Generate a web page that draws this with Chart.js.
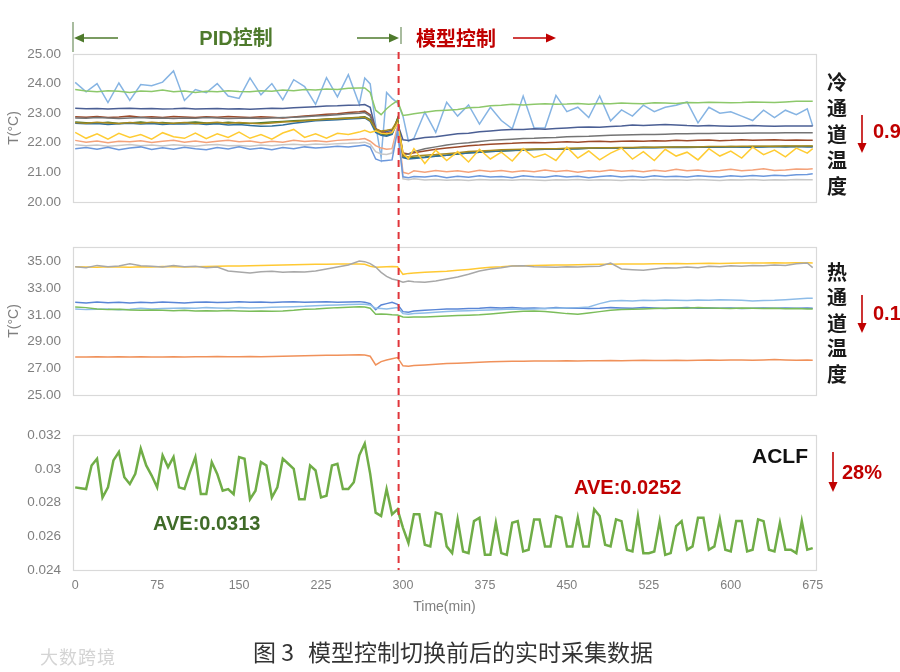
<!DOCTYPE html>
<html>
<head>
<meta charset="utf-8">
<script src="https://cdn.jsdelivr.net/npm/chart.js@4.4.1/dist/chart.umd.min.js"></script>
<style>
  body { margin: 0; width: 900px; height: 672px; background: #fff; position: relative; overflow: hidden;
         font-family: "Liberation Sans", Arial, "Noto Sans CJK SC", sans-serif; }
  .panel { position: absolute; left: 0; width: 900px; }
  .panel canvas { display: block; }
  .note { position: absolute; font-weight: bold; font-size: 20px; line-height: 1; white-space: nowrap;
          transform: translateY(-50%); }
  .vert { position: absolute; font-family: "Noto Sans CJK SC", sans-serif; font-weight: bold; font-size: 20px;
          line-height: 1; color: #1a1a1a; transform: translate(-50%, -50%); }
  .cap { position: absolute; top: 651px; transform: translateY(-50%); font-family: "Noto Sans CJK SC", sans-serif;
         font-size: 23px; line-height: 1; color: #333; white-space: nowrap; }
  #overlay { position: absolute; left: 0; top: 0; pointer-events: none; }
</style>
</head>
<body>

<div class="panel" style="top:0;height:222px"><canvas id="coldChart" width="900" height="222"></canvas></div>
<div class="panel" style="top:222px;height:193px"><canvas id="hotChart" width="900" height="193"></canvas></div>
<div class="panel" style="top:415px;height:205px"><canvas id="aclfChart" width="900" height="205"></canvas></div>

<svg id="overlay" width="900" height="672">
  <!-- PID section marker -->
  <line x1="73" y1="22" x2="73" y2="52" stroke="#6f8f5f" stroke-width="1.2"/>
  <line x1="118" y1="38" x2="82" y2="38" stroke="#4e7a2c" stroke-width="1.6"/>
  <polygon points="74,38 84,33.5 84,42.5" fill="#4e7a2c"/>
  <line x1="357" y1="38" x2="390" y2="38" stroke="#4e7a2c" stroke-width="1.6"/>
  <polygon points="399,38 389,33.5 389,42.5" fill="#4e7a2c"/>
  <line x1="401" y1="27" x2="401" y2="44" stroke="#6f8f5f" stroke-width="1.2"/>
  <!-- model section arrow -->
  <line x1="513" y1="38" x2="547" y2="38" stroke="#c00000" stroke-width="1.6"/>
  <polygon points="556,38 546,33.5 546,42.5" fill="#c00000"/>
  <!-- down arrows -->
  <line x1="862" y1="115" x2="862" y2="144" stroke="#c00000" stroke-width="1.6"/>
  <polygon points="862,153 857.5,143 866.5,143" fill="#c00000"/>
  <line x1="862" y1="295" x2="862" y2="324" stroke="#c00000" stroke-width="1.6"/>
  <polygon points="862,333 857.5,323 866.5,323" fill="#c00000"/>
  <line x1="833" y1="452" x2="833" y2="483" stroke="#c00000" stroke-width="1.6"/>
  <polygon points="833,492 828.5,482 837.5,482" fill="#c00000"/>
</svg>

<div class="note" style="left:236px;top:38px;color:#4e7a2c;transform:translate(-50%,-50%);font-family:'Liberation Sans','Noto Sans CJK SC',sans-serif">PID控制</div>
<div class="note" style="left:416px;top:38px;color:#c00000;font-family:'Noto Sans CJK SC',sans-serif">模型控制</div>

<div class="vert" style="left:837px;top:82px">冷</div>
<div class="vert" style="left:837px;top:108px">通</div>
<div class="vert" style="left:837px;top:134px">道</div>
<div class="vert" style="left:837px;top:160px">温</div>
<div class="vert" style="left:837px;top:186px">度</div>
<div class="note" style="left:873px;top:131px;color:#c00000">0.9</div>

<div class="vert" style="left:837px;top:272px">热</div>
<div class="vert" style="left:837px;top:297px">通</div>
<div class="vert" style="left:837px;top:323px">道</div>
<div class="vert" style="left:837px;top:348px">温</div>
<div class="vert" style="left:837px;top:374px">度</div>
<div class="note" style="left:873px;top:313px;color:#c00000">0.1</div>

<div class="note" style="left:752px;top:455px;color:#111;font-size:21px">ACLF</div>
<div class="note" style="left:842px;top:472px;color:#c00000">28%</div>
<div class="note" style="left:574px;top:487px;color:#c00000">AVE:0.0252</div>
<div class="note" style="left:153px;top:523px;color:#3f6b28">AVE:0.0313</div>

<div style="position:absolute;left:40px;top:656px;transform:translateY(-50%);font-family:'Noto Sans CJK SC',sans-serif;font-size:18px;color:#d4d4d4;letter-spacing:1px">大数跨境</div>
<div class="cap" style="left:253px">图 3</div>
<div class="cap" style="left:308px">模型控制切换前后的实时采集数据</div>

<script>
// time axis (min)
const switchTime = 296;
const xTicks = [0, 75, 150, 225, 300, 375, 450, 525, 600, 675];
const yColdTicks = [20, 21, 22, 23, 24, 25];
const yHotTicks = [25, 27, 29, 31, 33, 35];
const yAclfTicks = [0.024, 0.026, 0.028, 0.03, 0.032];

// sample times for temperature readings
const tempTimes = [0, 10, 20, 30, 40, 50, 60, 70, 80, 90, 100, 110, 120, 130, 140, 150, 160, 170, 180, 190, 200, 210, 220, 230, 240, 250, 260,
  265, 270, 275, 280, 285, 290, 295, 300, 305, 310,
  320, 330, 340, 350, 360, 370, 380, 390, 400, 410, 420, 430, 440, 450, 460, 470, 480, 490, 500, 510, 520, 530, 540, 550, 560, 570, 580, 590, 600, 610, 620, 630, 640, 650, 660, 670,
  675];

// cold aisle temperatures
const coldA = [24.04, 23.72, 24.00, 23.36, 24.02, 23.43, 23.97, 23.93, 24.05, 24.43, 23.43, 23.80, 23.69, 24.00, 23.58, 23.50, 24.19, 23.62, 24.00, 23.45, 24.13, 23.90, 23.30, 24.20, 23.55, 24.30, 23.30,
  24.19, 23.99, 22.60, 21.50, 23.70, 23.50, 23.35, 22.90, 22.05, 22.15,
  23.03, 22.35, 23.37, 22.90, 23.28, 22.63, 23.20, 22.75, 22.47, 23.58, 22.50, 22.50, 23.60, 23.05, 23.20, 22.85, 23.58, 22.74, 23.11, 22.90, 23.27, 23.05, 23.20, 23.27, 23.38, 22.67, 23.20, 23.00, 23.05, 22.90, 22.75, 23.10, 22.85, 23.10, 22.95, 23.15,
  22.57];
const coldB = [23.80, 23.75, 23.72, 23.76, 23.74, 23.70, 23.75, 23.73, 23.78, 23.72, 23.75, 23.70, 23.74, 23.72, 23.76, 23.73, 23.72, 23.76, 23.74, 23.78, 23.76, 23.80, 23.78, 23.82, 23.80, 23.84, 23.85,
  23.85, 23.70, 23.10, 22.95, 23.15, 23.30, 23.42, 22.92, 22.95, 22.98,
  23.03, 23.08, 23.10, 23.12, 23.18, 23.20, 23.25, 23.27, 23.30, 23.28, 23.30, 23.32, 23.30, 23.31, 23.33, 23.30, 23.33, 23.32, 23.34, 23.33, 23.32, 23.35, 23.34, 23.33, 23.36, 23.35, 23.37, 23.36, 23.35, 23.36, 23.38, 23.37, 23.36, 23.38, 23.40, 23.40,
  23.40];
const coldC = [23.17, 23.15, 23.16, 23.14, 23.16, 23.17, 23.15, 23.16, 23.14, 23.15, 23.17, 23.14, 23.15, 23.16, 23.14, 23.15, 23.13, 23.15, 23.17, 23.16, 23.18, 23.20, 23.22, 23.24, 23.25, 23.27, 23.28,
  23.29, 23.20, 22.45, 22.35, 22.38, 22.42, 22.65, 22.10, 22.08, 22.12,
  22.18, 22.20, 22.25, 22.30, 22.32, 22.37, 22.40, 22.43, 22.45, 22.45, 22.47, 22.46, 22.48, 22.50, 22.52, 22.53, 22.52, 22.55, 22.57, 22.60, 22.58, 22.60, 22.62, 22.60, 22.58, 22.57, 22.58, 22.57, 22.56, 22.57, 22.58, 22.57, 22.56, 22.57, 22.57, 22.57,
  22.57];
const coldD = [22.88, 22.86, 22.89, 22.85, 22.87, 22.90, 22.86, 22.88, 22.85, 22.89, 22.87, 22.85, 22.88, 22.86, 22.89, 22.87, 22.85, 22.88, 22.86, 22.84, 22.87, 22.90, 22.93, 22.96, 22.98, 23.02, 23.05,
  23.07, 22.95, 22.48, 22.38, 22.32, 22.36, 22.78, 21.65, 21.62, 21.66,
  21.72, 21.78, 21.82, 21.86, 21.90, 21.92, 21.95, 21.97, 21.98, 22.00, 22.01, 22.00, 22.02, 22.03, 22.02, 22.04, 22.05, 22.03, 22.05, 22.06, 22.05, 22.07, 22.06, 22.08, 22.07, 22.08, 22.09, 22.07, 22.08, 22.10, 22.08, 22.09, 22.10, 22.08, 22.09, 22.08,
  22.08];
const coldE = [22.84, 22.83, 22.85, 22.84, 22.82, 22.84, 22.85, 22.83, 22.84, 22.82, 22.84, 22.83, 22.85, 22.84, 22.82, 22.83, 22.84, 22.82, 22.84, 22.85, 22.86, 22.88, 22.90, 22.92, 22.95, 22.98, 23.00,
  23.02, 22.90, 22.42, 22.30, 22.28, 22.33, 22.80, 21.58, 21.62, 21.70,
  21.80, 21.86, 21.92, 21.97, 22.00, 22.04, 22.08, 22.10, 22.12, 22.14, 22.15, 22.17, 22.18, 22.20, 22.21, 22.22, 22.24, 22.25, 22.26, 22.27, 22.28, 22.28, 22.29, 22.30, 22.30, 22.31, 22.31, 22.32, 22.32, 22.32, 22.33, 22.33, 22.33, 22.34, 22.34, 22.34,
  22.34];
const coldF = [22.70, 22.68, 22.66, 22.69, 22.65, 22.67, 22.70, 22.66, 22.68, 22.65, 22.68, 22.70, 22.67, 22.66, 22.69, 22.67, 22.65, 22.68, 22.70, 22.72, 22.74, 22.76, 22.78, 22.80, 22.82, 22.84, 22.86,
  22.88, 22.78, 22.40, 22.30, 22.25, 22.30, 22.82, 21.52, 21.48, 21.50,
  21.52, 21.55, 21.58, 21.62, 21.66, 21.68, 21.70, 21.72, 21.74, 21.76, 21.77, 21.78, 21.79, 21.80, 21.80, 21.81, 21.82, 21.82, 21.83, 21.83, 21.84, 21.84, 21.85, 21.85, 21.86, 21.85, 21.86, 21.86, 21.87, 21.86, 21.87, 21.87, 21.87, 21.88, 21.87, 21.88,
  21.88];
const coldG = [22.66, 22.64, 22.65, 22.62, 22.64, 22.66, 22.63, 22.65, 22.62, 22.64, 22.63, 22.65, 22.62, 22.64, 22.60, 22.62, 22.58, 22.56, 22.57, 22.60, 22.66, 22.70, 22.74, 22.76, 22.78, 22.80, 22.82,
  22.84, 22.72, 22.35, 22.25, 22.22, 22.28, 22.70, 21.50, 21.45, 21.47,
  21.50, 21.54, 21.58, 21.62, 21.65, 21.68, 21.70, 21.72, 21.74, 21.75, 21.77, 21.78, 21.78, 21.79, 21.80, 21.81, 21.81, 21.82, 21.83, 21.82, 21.84, 21.83, 21.84, 21.85, 21.84, 21.85, 21.86, 21.85, 21.86, 21.86, 21.85, 21.86, 21.87, 21.86, 21.87, 21.86,
  21.86];
const coldH = [22.68, 22.66, 22.69, 22.67, 22.65, 22.68, 22.66, 22.69, 22.67, 22.66, 22.68, 22.65, 22.67, 22.69, 22.66, 22.68, 22.66, 22.64, 22.67, 22.70, 22.72, 22.74, 22.77, 22.79, 22.81, 22.83, 22.85,
  22.86, 22.75, 22.45, 22.40, 22.42, 22.46, 22.76, 21.55, 21.52, 21.55,
  21.58, 21.60, 21.63, 21.66, 21.70, 21.72, 21.74, 21.76, 21.77, 21.78, 21.79, 21.80, 21.80, 21.81, 21.82, 21.82, 21.83, 21.83, 21.84, 21.84, 21.85, 21.85, 21.85, 21.86, 21.86, 21.86, 21.87, 21.87, 21.87, 21.88, 21.88, 21.88, 21.88, 21.89, 21.89, 21.89,
  21.89];
const coldI = [22.35, 22.15, 22.30, 22.12, 22.32, 22.18, 22.28, 22.12, 22.34, 22.20, 22.15, 22.33, 22.14, 22.30, 22.18, 22.36, 22.15, 22.28, 22.12, 22.33, 22.45, 22.18, 22.30, 22.15, 22.32, 22.28, 22.36,
  22.42, 22.35, 22.40, 22.32, 22.30, 22.34, 22.65, 21.65, 21.45, 21.80,
  21.30, 21.75, 21.40, 21.70, 21.35, 21.78, 21.45, 21.68, 21.38, 21.80, 21.50, 21.62, 21.40, 21.85, 21.48, 21.72, 21.42, 21.65, 21.82, 21.45, 21.70, 21.40, 21.78, 21.55, 21.68, 21.42, 21.80, 21.55, 21.72, 21.48, 21.85, 21.60, 21.75, 21.52, 21.82, 21.65,
  21.80];
const coldJ = [22.08, 22.02, 22.06, 22.00, 22.05, 22.03, 22.07, 22.01, 22.05, 22.08, 22.02, 22.06, 22.01, 22.05, 22.08, 22.03, 22.06, 22.00, 22.05, 22.02, 22.08, 22.04, 22.07, 22.03, 22.08, 22.10, 22.12,
  22.14, 22.05, 21.90, 21.82, 21.78, 21.80, 22.55, 21.00, 20.95, 21.05,
  21.00, 21.06, 21.02, 21.05, 21.00, 21.07, 21.03, 21.06, 21.01, 21.05, 21.02, 21.08, 21.03, 21.06, 21.00, 21.05, 21.03, 21.08, 21.04, 21.06, 21.02, 21.07, 21.04, 21.10, 21.05, 21.08, 21.03, 21.06, 21.10, 21.05, 21.08, 21.12, 21.06, 21.08, 21.11, 21.10,
  21.12];
const coldK = [21.93, 21.90, 21.92, 21.88, 21.91, 21.94, 21.90, 21.92, 21.89, 21.93, 21.91, 21.88, 21.92, 21.94, 21.90, 21.91, 21.88, 21.92, 21.90, 21.93, 21.95, 21.92, 21.96, 21.94, 21.97, 21.98, 22.00,
  22.02, 21.95, 21.70, 21.62, 21.60, 21.65, 22.45, 20.78, 20.75, 20.78,
  20.74, 20.76, 20.73, 20.75, 20.72, 20.76, 20.74, 20.75, 20.73, 20.76, 20.74, 20.72, 20.75, 20.74, 20.76, 20.73, 20.75, 20.74, 20.72, 20.75, 20.73, 20.76, 20.74, 20.75, 20.73, 20.76, 20.74, 20.72, 20.75, 20.74, 20.76, 20.73, 20.75, 20.74, 20.76, 20.75,
  20.75];
const coldL = [21.80, 21.84, 21.78, 21.85, 21.76, 21.82, 21.86, 21.77, 21.83, 21.78, 21.85, 21.80, 21.76, 21.84, 21.79, 21.86, 21.78, 21.82, 21.76, 21.84, 21.80, 21.86, 21.82, 21.85, 21.88, 21.86, 21.90,
  21.92, 21.85, 21.45, 21.38, 21.40, 21.42, 22.40, 20.85, 20.82, 20.86,
  20.84, 20.88, 20.82, 20.87, 20.83, 20.88, 20.84, 20.86, 20.82, 20.88, 20.85, 20.83, 20.88, 20.84, 20.87, 20.82, 20.86, 20.88, 20.84, 20.87, 20.83, 20.88, 20.85, 20.87, 20.84, 20.88, 20.86, 20.84, 20.88, 20.86, 20.89, 20.87, 20.90, 20.88, 20.92, 20.93,
  20.95];

// hot aisle temperatures
const hotA = [34.62, 34.60, 34.58, 34.62, 34.60, 34.58, 34.62, 34.60, 34.63, 34.62, 34.60, 34.62, 34.64, 34.65, 34.67, 34.68, 34.70, 34.72, 34.73, 34.75, 34.77, 34.78, 34.80, 34.80, 34.82, 34.83, 34.82,
  34.80, 34.65, 34.58, 34.60, 34.62, 34.64, 34.62, 34.05, 34.12, 34.15,
  34.20, 34.25, 34.28, 34.35, 34.42, 34.50, 34.58, 34.62, 34.68, 34.70, 34.72, 34.73, 34.74, 34.75, 34.76, 34.78, 34.80, 34.80, 34.82, 34.82, 34.83, 34.85, 34.84, 34.86, 34.85, 34.87, 34.88, 34.87, 34.88, 34.90, 34.89, 34.90, 34.91, 34.90, 34.92, 34.92,
  34.90];
const hotB = [34.62, 34.55, 34.72, 34.62, 34.68, 34.85, 34.70, 34.65, 34.60, 34.72, 34.62, 34.65, 34.55, 34.60, 34.30, 34.22, 34.15, 34.25, 34.28, 34.20, 34.25, 34.22, 34.30, 34.45, 34.60, 34.75, 35.05,
  35.00, 34.85, 34.60, 34.20, 33.90, 33.70, 33.60, 33.45, 33.55, 33.50,
  33.45, 33.55, 33.70, 33.85, 34.05, 34.30, 34.45, 34.55, 34.68, 34.70, 34.62, 34.60, 34.58, 34.62, 34.60, 34.63, 34.65, 34.90, 34.45, 34.40, 34.35, 34.45, 34.55, 34.52, 34.60, 34.55, 34.65, 34.62, 34.70, 34.65, 34.72, 34.70, 34.75, 34.72, 34.85, 34.90,
  34.55];
const hotC = [31.95, 31.90, 31.98, 31.92, 31.95, 31.90, 31.96, 31.92, 31.98, 31.94, 31.90, 31.95, 31.98, 31.93, 31.96, 32.00, 31.95, 31.98, 31.93, 31.97, 32.00, 31.96, 31.98, 32.00, 31.95, 31.98, 32.00,
  31.95, 31.85, 31.40, 31.75, 31.85, 31.95, 31.80, 31.25, 31.20, 31.30,
  31.35, 31.40, 31.45, 31.45, 31.48, 31.50, 31.55, 31.52, 31.55, 31.50, 31.52, 31.48, 31.55, 31.50, 31.53, 31.48, 31.50, 31.55, 31.52, 31.50, 31.55, 31.52, 31.48, 31.52, 31.55, 31.50, 31.53, 31.50, 31.52, 31.48, 31.50, 31.52, 31.50, 31.53, 31.50, 31.52,
  31.50];
const hotD = [31.45, 31.40, 31.42, 31.45, 31.40, 31.43, 31.50, 31.45, 31.48, 31.50, 31.52, 31.50, 31.55, 31.52, 31.50, 31.55, 31.52, 31.55, 31.58, 31.60, 31.62, 31.65, 31.70, 31.72, 31.75, 31.78, 31.80,
  31.80, 31.75, 31.50, 31.48, 31.45, 31.50, 31.55, 31.10, 31.05, 31.10,
  31.15, 31.20, 31.25, 31.30, 31.32, 31.35, 31.38, 31.40, 31.45, 31.42, 31.45, 31.48, 31.50, 31.52, 31.55, 31.60, 31.85, 32.05, 32.08, 32.05, 32.10, 32.08, 32.12, 32.10, 32.08, 32.12, 32.10, 32.15, 32.12, 32.10, 32.05, 32.08, 32.10, 32.15, 32.20, 32.25,
  32.25];
const hotE = [31.60, 31.55, 31.45, 31.40, 31.42, 31.38, 31.35, 31.38, 31.35, 31.32, 31.35, 31.30, 31.32, 31.30, 31.33, 31.30, 31.28, 31.30, 31.28, 31.30, 31.35, 31.42, 31.45, 31.50, 31.55, 31.58, 31.62,
  31.60, 31.50, 31.05, 31.08, 31.05, 31.02, 31.00, 30.85, 30.82, 30.85,
  30.85, 30.88, 30.92, 30.95, 30.98, 31.02, 31.08, 31.15, 31.22, 31.28, 31.30, 31.25, 31.18, 31.10, 31.05, 31.15, 31.25, 31.35, 31.40, 31.42, 31.45, 31.48, 31.50, 31.52, 31.50, 31.55, 31.52, 31.50, 31.48, 31.52, 31.50, 31.48, 31.50, 31.46, 31.48, 31.45,
  31.45];
const hotF = [27.85, 27.84, 27.86, 27.85, 27.87, 27.84, 27.86, 27.85, 27.84, 27.86, 27.85, 27.87, 27.86, 27.88, 27.87, 27.86, 27.88, 27.87, 27.89, 27.90, 27.92, 27.94, 27.95, 27.97, 27.98, 28.00, 28.01,
  28.00, 27.90, 27.25, 27.50, 27.62, 27.72, 27.80, 27.18, 27.15, 27.20,
  27.25, 27.30, 27.35, 27.38, 27.42, 27.45, 27.48, 27.50, 27.52, 27.52, 27.55, 27.54, 27.55, 27.56, 27.55, 27.57, 27.56, 27.58, 27.57, 27.58, 27.60, 27.58, 27.59, 27.60, 27.58, 27.60, 27.61, 27.60, 27.62, 27.61, 27.60, 27.62, 27.65, 27.62, 27.60, 27.62,
  27.60];

// ACLF, one reading every 5 min from 0 to 675
const aclfStep = 5;
const aclfValues = [
  0.0289, 0.02885, 0.0288, 0.0302, 0.0306, 0.0283, 0.0289, 0.0305, 0.0310, 0.0295,
  0.0291, 0.0297, 0.0312, 0.0302, 0.0296, 0.0289, 0.0308, 0.0301, 0.0307, 0.0289,
  0.0288, 0.0298, 0.0307, 0.0285, 0.0285, 0.0304, 0.0297, 0.0287, 0.0288, 0.0285,
  0.0307, 0.0306, 0.0282, 0.0287, 0.0304, 0.0302, 0.0283, 0.0289, 0.0306, 0.0303,
  0.0300, 0.0282, 0.0282, 0.0302, 0.0299, 0.0283, 0.0284, 0.0302, 0.0303, 0.0288,
  0.0288, 0.0292, 0.0308, 0.0315, 0.0297, 0.0274, 0.0272, 0.0288, 0.0273, 0.0276,
  0.0265, 0.0256, 0.0273, 0.0273, 0.0255, 0.0254, 0.0274, 0.0273, 0.0254, 0.0250,
  0.0270, 0.0251, 0.0250, 0.0269, 0.0271, 0.0249, 0.0249, 0.0268, 0.0250, 0.0249,
  0.0268, 0.0269, 0.0251, 0.0252, 0.0270, 0.0270, 0.0254, 0.0254, 0.0272, 0.0271,
  0.0254, 0.0254, 0.0271, 0.0254, 0.0254, 0.0276, 0.0272, 0.0255, 0.0254, 0.0270,
  0.0269, 0.0252, 0.0251, 0.0272, 0.0250, 0.0250, 0.0251, 0.0269, 0.0249, 0.0250,
  0.0266, 0.0269, 0.0252, 0.0254, 0.0271, 0.0271, 0.0252, 0.0254, 0.0270, 0.0252,
  0.0251, 0.0269, 0.0269, 0.0251, 0.0252, 0.0270, 0.0269, 0.0252, 0.0251, 0.0268,
  0.0252, 0.0252, 0.0250, 0.0269, 0.0252, 0.0253
];

Chart.defaults.font.family = '"Liberation Sans", Arial, sans-serif';

const pts = (times, vals) => vals.map((v, i) => ({ x: times[i], y: v }));
const line = (times, vals, color, width) => ({
  data: pts(times, vals), borderColor: color, borderWidth: width || 1.5,
  pointRadius: 0, tension: 0, fill: false
});

// light grey frame round the plot area
const frame = {
  id: 'frame',
  beforeDatasetsDraw(chart) {
    const a = chart.chartArea, ctx = chart.ctx;
    ctx.save();
    ctx.strokeStyle = '#d9d9d9';
    ctx.lineWidth = 1.2;
    ctx.strokeRect(Math.round(a.left) + 0.5, Math.round(a.top) + 0.5, Math.round(a.right - a.left), Math.round(a.bottom - a.top));
    ctx.restore();
  }
};

// red dashed line where the model control takes over
const switchLine = {
  id: 'switchLine',
  afterDatasetsDraw(chart, args, opts) {
    const ctx = chart.ctx;
    const x = chart.scales.x.getPixelForValue(switchTime);
    ctx.save();
    ctx.strokeStyle = '#e0353b';
    ctx.lineWidth = 2;
    ctx.setLineDash([7, 5]);
    ctx.lineDashOffset = opts.offset || 0;
    ctx.beginPath();
    ctx.moveTo(x, opts.from);
    ctx.lineTo(x, opts.toArea ? chart.chartArea.bottom : chart.height);
    ctx.stroke();
    ctx.restore();
  }
};

function makePanel(id, datasets, yMin, yMax, yTicks, fmt, cfg) {
  return new Chart(document.getElementById(id), {
    type: 'line',
    data: { datasets: datasets },
    options: {
      responsive: false,
      animation: false,
      events: [],
      layout: { padding: cfg.padding },
      plugins: {
        legend: { display: false },
        tooltip: { enabled: false },
        switchLine: cfg.line
      },
      scales: {
        x: {
          type: 'linear', min: -2, max: 678,
          grid: { display: false, drawTicks: false },
          border: { display: false },
          afterBuildTicks: s => { s.ticks = xTicks.map(v => ({ value: v })); },
          afterFit: s => { s.height = cfg.xHeight; },
          ticks: { display: cfg.showX, color: '#7f7f7f', font: { size: 12.5 }, padding: 8, maxRotation: 0, autoSkip: false },
          title: { display: cfg.showX, text: 'Time(min)', color: '#7f7f7f', font: { size: 14 }, padding: { top: 0, bottom: 2 } }
        },
        y: {
          min: yMin, max: yMax,
          grid: { display: false, drawTicks: false },
          border: { display: false },
          afterBuildTicks: s => { s.ticks = yTicks.map(v => ({ value: v })); },
          afterFit: s => { s.width = 73; },
          ticks: { color: '#7f7f7f', font: { size: 13.5 }, padding: 12, callback: fmt },
          title: { display: !!cfg.yTitle, text: cfg.yTitle || '', color: '#7f7f7f', font: { size: 14 }, padding: { top: 6, bottom: 0 } }
        }
      }
    },
    plugins: [frame, switchLine]
  });
}

const twoDec = v => Number(v).toFixed(2);

makePanel('coldChart', [
  line(tempTimes, coldL, '#6c98dc'),
  line(tempTimes, coldK, '#c8c8c8'),
  line(tempTimes, coldJ, '#f4a27a'),
  line(tempTimes, coldI, '#ffcc33'),
  line(tempTimes, coldH, '#a88a1e'),
  line(tempTimes, coldG, '#2f6e9e'),
  line(tempTimes, coldF, '#4c7a2e'),
  line(tempTimes, coldE, '#747474'),
  line(tempTimes, coldD, '#9c4a2a'),
  line(tempTimes, coldC, '#4b5f94'),
  line(tempTimes, coldB, '#8dc86b'),
  line(tempTimes, coldA, '#86b4e3')
], 20, 25, yColdTicks, twoDec, {
  padding: { top: 54, right: 84, bottom: 0, left: 0 },
  showX: false, xHeight: 16, yTitle: 'T(°C)',
  line: { from: 52, offset: 0 }
});

makePanel('hotChart', [
  line(tempTimes, hotF, '#f0915a'),
  line(tempTimes, hotE, '#7bbd5a'),
  line(tempTimes, hotD, '#8ebce8'),
  line(tempTimes, hotC, '#5a86d6'),
  line(tempTimes, hotB, '#a8a8a8'),
  line(tempTimes, hotA, '#ffc933')
], 25, 36.1, yHotTicks, twoDec, {
  padding: { top: 25, right: 84, bottom: 0, left: 0 },
  showX: false, xHeight: 16, yTitle: 'T(°C)',
  line: { from: 0, offset: 2 }
});

const aclfTimes = aclfValues.map((v, i) => i * aclfStep);
makePanel('aclfChart', [
  line(aclfTimes, aclfValues, '#70ad47', 2.5)
], 0.024, 0.032, yAclfTicks, v => String(Number(Number(v).toFixed(3))), {
  padding: { top: 20, right: 84, bottom: 2, left: 0 },
  showX: true, xHeight: 48, yTitle: '',
  line: { from: 0, offset: 3, toArea: true }
});
</script>
</body>
</html>
